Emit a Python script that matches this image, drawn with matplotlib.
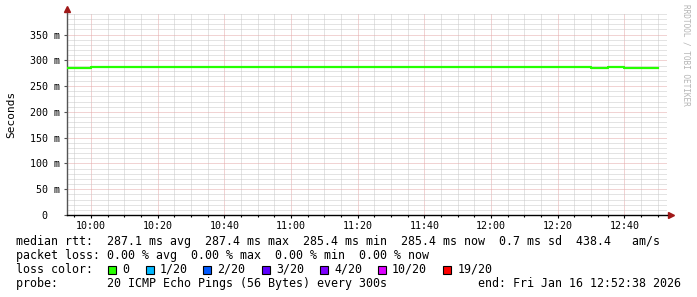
import datetime
import pandas as pd
import matplotlib
matplotlib.use("Agg")
import matplotlib.pyplot as plt
import matplotlib.dates as mdates
from matplotlib.patches import Rectangle

# ---------- DATA ------------
# 5 minute bins, value = median rtt (ms) of each bin
bin_start = "2026-01-16 09:50"
rtt_ms = [285.4, 285.5,
          287.4, 287.3, 287.4, 287.3, 287.4, 287.4, 287.3, 287.4, 287.4, 287.3,
          287.4, 287.4, 287.3, 287.4, 287.4, 287.3, 287.4, 287.4, 287.3, 287.4,
          287.4, 287.3, 287.4, 287.4, 287.3, 287.4, 287.4, 287.3, 287.4, 287.4,
          285.5, 287.2, 285.4, 285.4]

y_ticks = [0, 50, 100, 150, 200, 250, 300, 350]
y_labels = ["0  ", "50 m", "100 m", "150 m", "200 m", "250 m", "300 m", "350 m"]

loss_labels = ["0", "1/20", "2/20", "3/20", "4/20", "10/20", "19/20"]
loss_colors = ["#26ff00", "#00b8ff", "#0059ff", "#5e00ff", "#7e00ff", "#dd00ff", "#ff0000"]

line_rtt = "median rtt:  287.1 ms avg  287.4 ms max  285.4 ms min  285.4 ms now  0.7 ms sd  438.4   am/s"
line_loss = "packet loss: 0.00 % avg  0.00 % max  0.00 % min  0.00 % now"
line_probe = "probe:       20 ICMP Echo Pings (56 Bytes) every 300s"
line_end = "end: Fri Jan 16 12:52:38 2026"
t_start = datetime.datetime(2026, 1, 16, 9, 52, 38)
t_end = datetime.datetime(2026, 1, 16, 12, 52, 38)
# ------------------------------

# ---------- CONFIG ------------
W, H = 697, 297
mono = "DejaVu Sans Mono"
grid_minor = "#c8c8c8"
grid_major = "#e4a8a8"
arrow_c = "#a01818"
# ------------------------------

plt.rcParams["font.family"] = mono


def fx(px):
    return px / W


def fy(py):
    return 1 - py / H


fig = plt.figure(figsize=(W / 100, H / 100), dpi=100)
fig.patch.set_facecolor("white")
ax = fig.add_axes([fx(66.5), fy(215), 600 / W, (215 - 13) / H])

edges = pd.date_range(bin_start, periods=len(rtt_ms) + 1, freq="5min")
ax.step(edges, rtt_ms + [rtt_ms[-1]], where="post", color=loss_colors[0], lw=1.6, zorder=3)

ax.set_xlim(t_start, t_end)
ax.set_ylim(0, 392)

# grid
ax.xaxis.set_major_locator(mdates.MinuteLocator(byminute=[0, 20, 40]))
ax.xaxis.set_minor_locator(mdates.MinuteLocator(byminute=range(0, 60, 5)))
ax.xaxis.set_major_formatter(mdates.DateFormatter("%H:%M"))
ax.set_yticks(y_ticks)
ax.set_yticklabels(y_labels)
ax.set_yticks(range(10, 392, 10), minor=True)
ax.grid(which="minor", color=grid_minor, lw=0.72, ls=(0, (1, 1)))
ax.grid(which="major", color=grid_major, lw=0.72, ls=(0, (1, 1)))
ax.set_axisbelow(True)

ax.tick_params(axis="x", which="major", length=2.5, width=0.8, pad=2, labelsize=7.2, color="black")
ax.tick_params(axis="x", which="minor", length=1.5, width=0.8, color="black")
ax.tick_params(axis="y", which="major", length=2, width=0.8, pad=3, labelsize=7.2, color="#555555")
ax.tick_params(axis="y", which="minor", length=0)

for s in ["top", "right"]:
    ax.spines[s].set_visible(False)
ax.spines["left"].set_color("#555555")
ax.spines["bottom"].set_color("black")
ax.spines["left"].set_linewidth(1.0)
ax.spines["bottom"].set_linewidth(1.0)

# arrows at axis ends
ax.plot([0], [1.02], marker="^", ms=5, color=arrow_c, transform=ax.transAxes, clip_on=False)
ax.plot([1.008], [0], marker=">", ms=5, color=arrow_c, transform=ax.transAxes, clip_on=False)

fig.text(fx(11), fy(114), "Seconds", rotation=90, ha="center", va="center", fontsize=8)

fig.text(fx(686), fy(4), "RRDTOOL / TOBI OETIKER", rotation=270, ha="center", va="top",
         fontsize=5.6, color="#b4b4b4")

# legend lines
fs = 8.4
fig.text(fx(16), fy(241.5), line_rtt, ha="left", va="center", fontsize=fs)
fig.text(fx(16), fy(255.5), line_loss, ha="left", va="center", fontsize=fs)
fig.text(fx(16), fy(269.5), "loss color:", ha="left", va="center", fontsize=fs)
fig.text(fx(16), fy(283.5), line_probe, ha="left", va="center", fontsize=fs)
fig.text(fx(681), fy(283.5), line_end, ha="right", va="center", fontsize=fs)

box_x = [108, 145.5, 203, 261.5, 320, 377.5, 443]
for bx, lab, col in zip(box_x, loss_labels, loss_colors):
    fig.patches.append(Rectangle((fx(bx), fy(273.5)), 8 / W, 8 / H, transform=fig.transFigure,
                                 facecolor=col, edgecolor="black", lw=0.8))
    fig.text(fx(bx + 14.5), fy(269.5), lab, ha="left", va="center", fontsize=fs)

fig.savefig("out.png", dpi=100, facecolor="white")
